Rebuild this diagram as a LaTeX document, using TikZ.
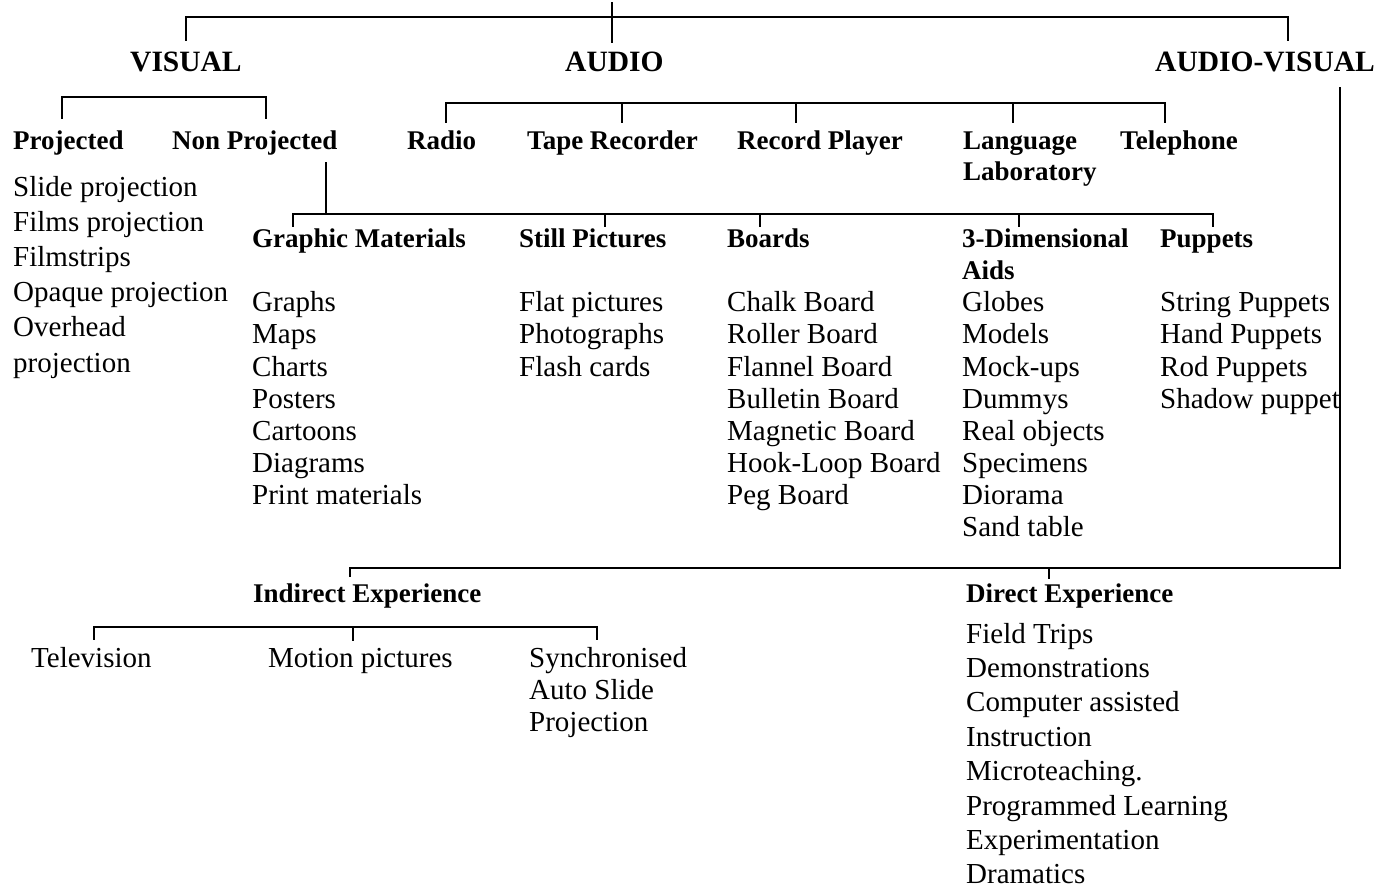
\documentclass[tikz,border=0pt]{standalone}
\usepackage{fontspec}
\setmainfont{Liberation Serif}
\begin{document}
\begin{tikzpicture}[x=1pt,y=-1pt,
  conn/.style={line width=1.6pt, line cap=rect},
  item/.style={anchor=base west, inner sep=0pt, font=\fontsize{29}{32}\selectfont},
  sub/.style={anchor=base west, inner sep=0pt, font=\bfseries\fontsize{27}{30}\selectfont},
  head/.style={anchor=base west, inner sep=0pt, font=\bfseries\fontsize{29.5}{32}\selectfont}]
\useasboundingbox[fill=white] (0,0) rectangle (1391,890);

% headings
\node[head] (vis) at (130,72) {VISUAL};
\node[head] (aud) at (565,72) {AUDIO};
\node[head] (av)  at (1155,72) {AUDIO-VISUAL};
\coordinate (topin) at (612,3);
\draw[conn] (186,40) |- (1288,17) -- (1288,40);
\draw[conn] (topin) -- (612,42);

% second row
\node[sub] (proj)  at (13,150)  {Projected};
\node[sub] (nproj) at (172,150) {Non Projected};
\node[sub] (radio) at (407,150) {Radio};
\node[sub] (tape)  at (527,150) {Tape Recorder};
\node[sub] (rec)   at (737,150) {Record Player};
\node[sub] (lang)  at (963,150) {Language};
\node[sub] (lang2) at (963,181) {Laboratory};
\node[sub] (tel)   at (1120,150) {Telephone};

\draw[conn] (62,118) |- (266,97) -- (266,118);
\draw[conn] (446,122) |- (1165,103) -- (1165,122);
\foreach \x in {622,796,1013} \draw[conn] (\x,103) -- (\x,122);

% projected list
\foreach \t [count=\i] in {Slide projection,Films projection,Filmstrips,Opaque projection,Overhead,projection}
  \node[item] (p\i) at ({13},{197+35*(\i-1)}) {\t};

% non projected branch
\draw[conn] (326,163) -- (326,214);
\draw[conn] (293,226) |- (1213,214) -- (1213,226);
\foreach \x in {605,760,1019} \draw[conn] (\x,214) -- (\x,226);

\node[sub] (gm)  at (252,248)  {Graphic Materials};
\node[sub] (sp)  at (519,248)  {Still Pictures};
\node[sub] (bd)  at (727,248)  {Boards};
\node[sub] (td)  at (962,248)  {3-Dimensional};
\node[sub] (td2) at (962,280)  {Aids};
\node[sub] (pup) at (1160,248) {Puppets};

\foreach \t [count=\i] in {Graphs,Maps,Charts,Posters,Cartoons,Diagrams,Print materials}
  \node[item] (g\i) at ({252},{312+32*(\i-1)}) {\t};
\foreach \t [count=\i] in {Flat pictures,Photographs,Flash cards}
  \node[item] (s\i) at ({519},{312+32*(\i-1)}) {\t};
\foreach \t [count=\i] in {Chalk Board,Roller Board,Flannel Board,Bulletin Board,Magnetic Board,Hook-Loop Board,Peg Board}
  \node[item] (b\i) at ({727},{312+32*(\i-1)}) {\t};
\foreach \t [count=\i] in {Globes,Models,Mock-ups,Dummys,Real objects,Specimens,Diorama,Sand table}
  \node[item] (d\i) at ({962},{312+32*(\i-1)}) {\t};
\foreach \t [count=\i] in {String Puppets,Hand Puppets,Rod Puppets,Shadow puppet}
  \node[item] (u\i) at ({1160},{312+32*(\i-1)}) {\t};

% audio-visual branch
\draw[conn] (1340,88) -- (1340,568) -- (350,568) -- (350,576);
\draw[conn] (1049,568) -- (1049,578);

\node[sub] (ind) at (253,602) {Indirect Experience};
\node[sub] (dir) at (966,602) {Direct Experience};

\draw[conn] (94,639) |- (597,627) -- (597,639);
\draw[conn] (353,627) -- (353,640);

\node[item] (tv) at (31,667)  {Television};
\node[item] (mp) at (268,667) {Motion pictures};
\node[item] (sy) at (529,667) {Synchronised};
\node[item] (sy2) at (529,699) {Auto Slide};
\node[item] (sy3) at (529,731) {Projection};

\foreach \t [count=\i] in {Field Trips,Demonstrations,Computer assisted,Instruction,Microteaching.,Programmed Learning,Experimentation,Dramatics}
  \node[item] (e\i) at ({966},{643+34.4*(\i-1)}) {\t};
\end{tikzpicture}
\end{document}
